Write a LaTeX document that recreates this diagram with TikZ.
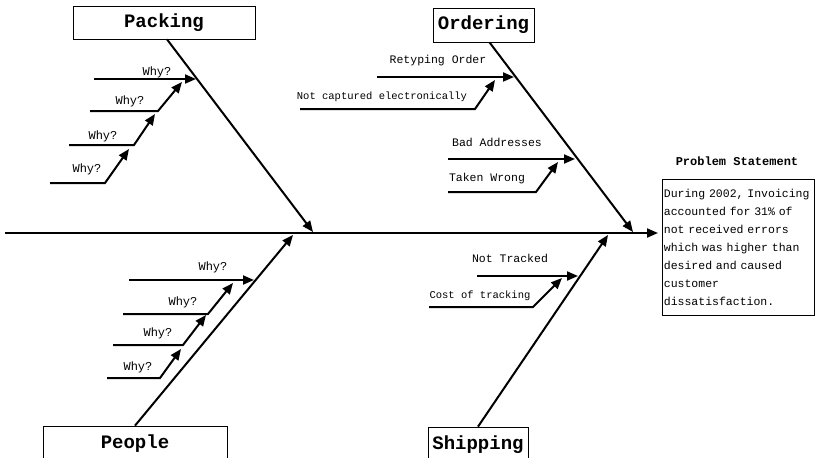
\documentclass[tikz,border=0pt]{standalone}
\usepackage{fontspec}
\setmainfont{Liberation Mono}
\usetikzlibrary{arrows.meta}
\tikzset{
  arr/.style={line width=2pt, -{Triangle[length=11pt,width=9pt]}},
  title/.style={draw, line width=0.7pt, font=\fontsize{19}{21}\selectfont\bfseries, inner sep=0pt},
  lbl/.style={font=\fontsize{11.5}{13}\selectfont, inner sep=0pt},
  lbls/.style={font=\fontsize{10.5}{12}\selectfont, inner sep=0pt},
  why/.style={font=\fontsize{12}{13}\selectfont, inner sep=0pt},
}
\begin{document}
\begin{tikzpicture}[x=1pt,y=-1pt]
\useasboundingbox (0,0) rectangle (815,458);
% spine
\coordinate (tail) at (5,233);
\coordinate (head) at (658,233);
\draw[arr] (tail) -- (head);
% category boxes
\node[title, minimum width=182, minimum height=33] (packing) at (164,22.5) {Packing};
\node[title, minimum width=101, minimum height=34] (ordering) at (483.5,25) {Ordering};
\node[title, minimum width=184, minimum height=36] (people) at (135,444) {People};
\node[title, minimum width=100, minimum height=36] (shipping) at (478,445) {Shipping};
% bone tips
\coordinate (tpack) at (313,232);
\coordinate (tord) at (633,232);
\coordinate (tpeo) at (293,235);
\coordinate (tship) at (608,235);
\draw[arr] ([xshift=3pt]packing.south) -- (tpack);
\draw[arr] ([xshift=6pt]ordering.south) -- (tord);
\draw[arr] (people.north) -- (tpeo);
\draw[arr] (shipping.north) -- (tship);
% Packing whys
\coordinate (a1s) at (94,79);  \coordinate (a1e) at (196,79);
\coordinate (a2s) at (90,111); \coordinate (a2k) at (158,111); \coordinate (a2e) at (182,82);
\coordinate (a3s) at (69,145); \coordinate (a3k) at (134,145); \coordinate (a3e) at (155,114);
\coordinate (a4s) at (50,183); \coordinate (a4k) at (105,183); \coordinate (a4e) at (129,149);
\draw[arr] (a1s) -- (a1e);
\draw[arr] (a2s) -- (a2k) -- (a2e);
\draw[arr] (a3s) -- (a3k) -- (a3e);
\draw[arr] (a4s) -- (a4k) -- (a4e);
\node[why] (la1) at (157,72) {Why?};
\node[why] (la2) at (130,101) {Why?};
\node[why] (la3) at (103,136) {Why?};
\node[why] (la4) at (87,169) {Why?};
% People whys
\coordinate (b1s) at (129,280); \coordinate (b1e) at (254,280);
\coordinate (b2s) at (123,314); \coordinate (b2k) at (208,314); \coordinate (b2e) at (233,283);
\coordinate (b3s) at (113,345); \coordinate (b3k) at (183,345); \coordinate (b3e) at (206,315);
\coordinate (b4s) at (107,378); \coordinate (b4k) at (160,378); \coordinate (b4e) at (181,349);
\draw[arr] (b1s) -- (b1e);
\draw[arr] (b2s) -- (b2k) -- (b2e);
\draw[arr] (b3s) -- (b3k) -- (b3e);
\draw[arr] (b4s) -- (b4k) -- (b4e);
\node[why] (lb1) at (213,267) {Why?};
\node[why] (lb2) at (183,302) {Why?};
\node[why] (lb3) at (158,333) {Why?};
\node[why] (lb4) at (138,367) {Why?};
% Ordering causes
\coordinate (c1s) at (377,77);  \coordinate (c1e) at (514,77);
\coordinate (c2s) at (300,109); \coordinate (c2k) at (475,109); \coordinate (c2e) at (495,80);
\coordinate (c3s) at (448,159); \coordinate (c3e) at (575,159);
\coordinate (c4s) at (448,192); \coordinate (c4k) at (536,192); \coordinate (c4e) at (558,162);
\draw[arr] (c1s) -- (c1e);
\draw[arr] (c2s) -- (c2k) -- (c2e);
\draw[arr] (c3s) -- (c3e);
\draw[arr] (c4s) -- (c4k) -- (c4e);
\node[lbl] (lc1) at (438,61) {Retyping Order};
\node[lbls] (lc2) at (382,97) {Not captured electronically};
\node[lbl] (lc3) at (497,142) {Bad Addresses};
\node[lbl] (lc4) at (487,179) {Taken Wrong};
% Shipping causes
\coordinate (d1s) at (477,276); \coordinate (d1e) at (578,276);
\coordinate (d2s) at (429,307); \coordinate (d2k) at (533,307); \coordinate (d2e) at (562,278);
\draw[arr] (d1s) -- (d1e);
\draw[arr] (d2s) -- (d2k) -- (d2e);
\node[lbl] (ld1) at (510,258) {Not Tracked};
\node[lbls] (ld2) at (480,296) {Cost of tracking};
% Problem statement
\node[font=\fontsize{12}{14}\selectfont\bfseries, inner sep=0pt] (ptitle) at (737,161) {Problem Statement};
\node[draw, line width=0.7pt, anchor=north west, minimum width=151.5, minimum height=136,
      text width=149, align=left, inner xsep=1.5pt, inner ysep=0pt, font=\fontsize{11.5}{18}\selectfont] (problem) at (662,179)
 {During 2002, Invoicing\\accounted for 31\% of\\not received errors\\which was higher than\\desired and caused\\customer\\dissatisfaction.};
\end{tikzpicture}
\end{document}
